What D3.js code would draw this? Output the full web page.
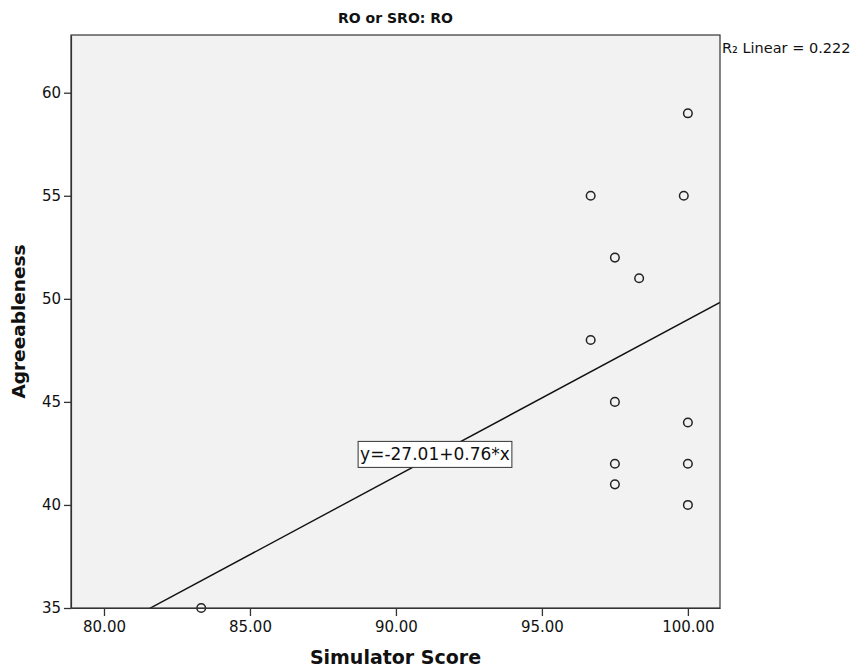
<!DOCTYPE html>
<html>
<head>
<meta charset="utf-8">
<script src="https://cdn.jsdelivr.net/npm/d3@7"></script>
<style>
  body { margin: 0; background: #fff; }
  text { font-family: "DejaVu Sans", sans-serif; }
</style>
</head>
<body>
<svg id="chart" width="856" height="668"></svg>
<script>
// scatter values
const simulatorScore = [100, 96.67, 99.86, 97.5, 98.33, 96.67, 97.5, 100, 97.5, 100, 97.5, 100, 83.33];
const agreeableness  = [59, 55, 55, 52, 51, 48, 45, 44, 42, 42, 41, 40, 35];
const xTicks = [80, 85, 90, 95, 100];
const yTicks = [35, 40, 45, 50, 55, 60];
const fitIntercept = -27.01;
const fitSlope = 0.76;
const titleText = "RO or SRO: RO";
const rSquaredText = "R\u2082 Linear = 0.222";

const margin = {top: 35, right: 136, bottom: 60, left: 71};
const width = 856 - margin.left - margin.right;
const height = 668 - margin.top - margin.bottom;

const svg = d3.select("#chart");
const g = svg.append("g").attr("transform", `translate(${margin.left},${margin.top})`);

const x = d3.scaleLinear().domain([78.87, 101.1]).range([0, width]);
const y = d3.scaleLinear().domain([35, 62.8]).range([height, 0]);

g.append("defs").append("clipPath").attr("id", "plot-clip")
    .append("rect").attr("width", width).attr("height", height);

g.append("rect")
    .attr("width", width).attr("height", height)
    .attr("fill", "#f2f2f2");

// fit line
const fitLine = d3.line().x(d => x(d)).y(d => y(fitIntercept + fitSlope * d));
g.append("path")
    .attr("clip-path", "url(#plot-clip)")
    .attr("d", fitLine([78.87, 101.1]))
    .attr("fill", "none")
    .attr("stroke", "#111")
    .attr("stroke-width", 1.4);

// points
g.selectAll("circle.pt")
    .data(simulatorScore.map((s, i) => ({s, a: agreeableness[i]})))
    .join("circle")
    .attr("class", "pt")
    .attr("cx", d => x(d.s))
    .attr("cy", d => y(d.a))
    .attr("r", 4.3)
    .attr("fill", "none")
    .attr("stroke", "#222")
    .attr("stroke-width", 1.5);

// frame
g.append("rect")
    .attr("width", width).attr("height", height)
    .attr("fill", "none")
    .attr("stroke", "#333")
    .attr("stroke-width", 1.2);

// axes
const xAxis = g.append("g")
    .attr("transform", `translate(0,${height})`)
    .call(d3.axisBottom(x).tickValues(xTicks).tickFormat(d3.format(".2f")).tickSize(8).tickSizeOuter(0));
const yAxis = g.append("g")
    .call(d3.axisLeft(y).tickValues(yTicks).tickFormat(d3.format("d")).tickSize(7).tickSizeOuter(0));

[xAxis, yAxis].forEach(a => {
    a.select(".domain").attr("stroke", "#333").attr("stroke-width", 1.2);
    a.selectAll(".tick line").attr("stroke", "#333").attr("stroke-width", 1.3);
    a.selectAll(".tick text")
        .attr("fill", "#111")
        .style("font-family", "DejaVu Sans, sans-serif")
        .style("font-size", "15px");
});
xAxis.selectAll(".tick text").attr("dy", "0.71em").attr("y", 13);
yAxis.selectAll(".tick text").attr("x", -10);

// equation label
const eqX = 435, eqY = y(42.45);
const eqText = g.append("text")
    .attr("x", eqX - margin.left)
    .attr("y", eqY)
    .attr("dy", "0.35em")
    .attr("text-anchor", "middle")
    .attr("font-size", 17)
    .attr("fill", "#111")
    .text(`y=${fitIntercept.toFixed(2)}+${fitSlope.toFixed(2)}*x`);
const bb = eqText.node().getBBox();
g.insert("rect", () => eqText.node())
    .attr("x", bb.x - 2).attr("y", bb.y - 3)
    .attr("width", bb.width + 4).attr("height", bb.height + 6)
    .attr("fill", "#fff")
    .attr("stroke", "#333")
    .attr("stroke-width", 1);

// titles
svg.append("text")
    .attr("x", margin.left + width / 2)
    .attr("y", 23)
    .attr("text-anchor", "middle")
    .attr("font-size", 14)
    .attr("font-weight", "bold")
    .attr("fill", "#111")
    .text(titleText);

svg.append("text")
    .attr("x", margin.left + width + 2)
    .attr("y", 53)
    .attr("font-size", 14.5)
    .attr("fill", "#111")
    .text(rSquaredText);

svg.append("text")
    .attr("x", margin.left + width / 2)
    .attr("y", 664)
    .attr("text-anchor", "middle")
    .attr("font-size", 19)
    .attr("font-weight", "bold")
    .attr("fill", "#111")
    .text("Simulator Score");

svg.append("text")
    .attr("transform", `translate(25,${margin.top + height / 2}) rotate(-90)`)
    .attr("text-anchor", "middle")
    .attr("font-size", 18.5)
    .attr("font-weight", "bold")
    .attr("fill", "#111")
    .text("Agreeableness");
</script>
</body>
</html>
